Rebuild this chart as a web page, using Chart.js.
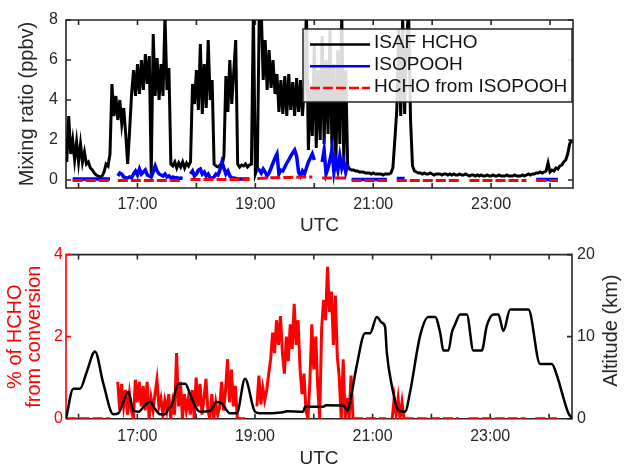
<!DOCTYPE html>
<html>
<head>
<meta charset="utf-8">
<script src="https://cdn.jsdelivr.net/npm/chart.js@4.4.0/dist/chart.umd.min.js"></script>
<style>
  html, body { margin: 0; padding: 0; background: #fff; overflow: hidden; }
  canvas { position: absolute; left: 0; }
  #topChart { top: 0; }
  #bottomChart { top: 240px; }
</style>
</head>
<body>
<canvas id="topChart" width="625" height="240"></canvas>
<canvas id="bottomChart" width="625" height="240"></canvas>
<script>
// x axis is UTC in decimal hours
const xMin = 15.787;
const xMax = 24.39;
const hourTicks = [16, 17, 18, 19, 20, 21, 22, 23, 24];
const mixTicks = [0, 2, 4, 6, 8];
const pctTicks = [0, 2, 4];
const altTicks = [0, 10, 20];

// 2-minute samples starting 15:48 UTC
const sampleStart = 15.8;
const sampleStep = 2 / 60;

// ISAF HCHO (ppbv)
const hcho = [
  0.9, 3.2, 1.3, 2.0, 1.0, 1.9, 0.9, 1.8, 0.9, 1.4,
  0.8, 0.9, 0.6, 0.5, 0.35, 0.25, 0.2, 0.15, 0.2, 0.4,
  0.8, 0.7, 1.3, 4.8, 3.2, 4.2, 3.0, 4.0, 2.8, 3.6,
  2.3, 0.8, 2.5, 4.3, 5.5, 4.2, 5.8, 4.3, 6.0, 4.5,
  6.3, 4.8, 6.2, 0.3, 7.3, 4.2, 6.1, 4.0, 5.8, 4.2,
  8.2, 4.5, 5.6, 0.8, 0.7, 0.9, 0.6, 0.85, 0.65, 0.9,
  0.6, 0.85, 0.7, 0.9, 4.8, 3.8, 5.5, 3.5, 6.8, 3.3,
  5.8, 3.6, 7.0, 4.0, 5.0, 0.8, 0.7, 0.65, 0.75, 0.7,
  1.2, 5.2, 3.4, 6.0, 3.8, 5.4, 7.0, 0.8, 0.65, 0.75,
  0.7, 0.8, 0.65, 0.75, 0.8, 8.5, 0.3, 0.6, 8.5, 8.5,
  5.0, 7.0, 4.5, 6.5, 4.6, 6.0, 4.3, 5.3, 3.4, 5.0,
  3.3, 5.2, 3.2, 5.3, 3.5, 4.9, 3.2, 5.1, 3.4, 5.0,
  3.2, 4.8, 8.5, 1.5, 4.5, 2.2, 6.8, 1.6, 5.5, 2.0,
  7.2, 1.8, 6.0, 2.3, 7.5, 1.5, 5.8, 0.8, 6.5, 1.8,
  8.3, 1.0, 5.5, 0.7, 0.55, 0.5, 0.5, 0.45, 0.45, 0.4,
  0.4, 0.4, 0.35, 0.35, 0.35, 0.3, 0.35, 0.3, 0.3, 0.3,
  0.3, 0.25, 0.3, 0.3, 0.3, 0.35, 0.6, 2.0, 3.5, 7.5,
  3.2, 8.0, 3.3, 7.0, 8.5, 3.0, 0.7, 0.45, 0.4, 0.35,
  0.35, 0.3, 0.35, 0.3, 0.3, 0.35, 0.3, 0.25, 0.3, 0.3,
  0.3, 0.25, 0.3, 0.3, 0.25, 0.3, 0.25, 0.3, 0.25, 0.25,
  0.3, 0.25, 0.25, 0.3, 0.25, 0.2, 0.25, 0.25, 0.2, 0.25,
  0.2, 0.25, 0.2, 0.2, 0.25, 0.2, 0.2, 0.25, 0.2, 0.2,
  0.25, 0.2, 0.2, 0.2, 0.25, 0.2, 0.2, 0.2, 0.25, 0.2,
  0.2, 0.2, 0.25, 0.2, 0.25, 0.3, 0.25, 0.3, 0.3, 0.35,
  0.35, 0.4, 0.35, 0.4, 0.45, 0.85, 0.4, 0.5, 0.45, 0.6,
  0.55, 0.7, 0.75, 0.9, 1.0, 1.3, 1.8, 2.0
];

// ISOPOOH (ppbv), null = no data
const isopooh = [
  null, null, null, 0.05, 0.05, 0.05, 0.05, 0.05, 0.05, 0.05,
  0.05, 0.05, 0.05, 0.05, 0.05, 0.05, 0.05, 0.05, 0.05, 0.05,
  0.05, 0.05, 0.05, null, null, null, 0.2, 0.35, 0.3, 0.15,
  0.12, 0.1, 0.15, 0.12, 0.3, 0.45, 0.25, 0.55, 0.3, 0.4,
  0.5, 0.25, 0.2, 0.15, 0.4, 0.7, 0.45, 0.3, 0.25, 0.2,
  0.3, 0.15, 0.2, 0.1, 0.15, 0.1, 0.12, 0.08, 0.1, 0.08,
  null, null, null, 0.3, 0.45, 0.2, 0.3, 0.5, 0.55, 0.3,
  0.4, 0.2, 0.3, 0.1, 0.1, 0.15, 0.3, 0.25, 0.5, 0.9,
  0.6, 0.3, 0.45, 0.2, 0.1, 0.1, 0.08, 0.05, 0.05, 0.05,
  0.05, 0.05, 0.05, 0.05, null, null, null, 0.6, 0.5, 0.35,
  0.55, 0.4, 0.2, 0.35, 0.6, 0.85, 1.1, 1.3, 0.3, 0.5,
  0.45, 0.65, 0.85, 1.0, 1.2, 1.35, 1.5, 1.2, 0.4, 0.2,
  0.45, 0.3, 0.6, 0.9, 1.1, 1.3, 1.0, null, null, null,
  0.9, 1.5, 0.3, 0.6, 1.0, 1.5, 0.4, 1.0, 0.5, 1.2,
  0.6, 0.95, 0.4, 0.8, null, 0.02, 0.02, 0.02, 0.02, 0.02,
  0.02, 0.02, 0.02, 0.02, 0.02, 0.02, 0.02, 0.02, 0.02, 0.02,
  0.02, 0.02, 0.02, 0.02, null, null, null, null, 0.08, 0.08,
  0.08, 0.08, 0.08, null, null, null, null, null, null, null,
  null, null, null, null, null, null, null, null, null, null,
  null, null, null, null, null, null, null, null, null, null,
  null, null, null, null, null, null, null, null, null, null,
  null, null, null, null, null, null, null, null, null, null,
  null, null, null, null, null, null, null, null, null, null,
  null, null, null, null, null, null, null, null, null, 0.02,
  0.02, 0.02, 0.02, 0.02, 0.02, 0.02, 0.02, 0.02, 0.02, 0.02,
  0.02, null, null, null, null, null, null, null
];

// HCHO from ISOPOOH (ppbv)
const hchoFromIsopooh = [
  null, null, null, -0.03, -0.03, -0.03, -0.03, -0.03, -0.03, -0.03,
  -0.03, -0.03, -0.03, -0.03, -0.03, -0.03, -0.03, -0.03, -0.03, -0.03,
  -0.03, -0.03, -0.03, null, null, null, -0.02, -0.02, -0.02, -0.02,
  -0.02, -0.02, -0.02, -0.02, -0.02, -0.02, -0.02, -0.02, -0.02, -0.02,
  -0.02, -0.02, -0.02, -0.02, -0.02, -0.02, -0.02, -0.02, -0.02, -0.02,
  -0.02, -0.02, -0.02, -0.02, -0.02, -0.02, -0.02, -0.02, -0.02, -0.02,
  null, null, null, 0.02, 0.02, 0.02, 0.02, 0.02, 0.02, 0.02,
  0.02, 0.02, 0.02, 0.02, 0.02, 0.02, 0.02, 0.02, 0.02, 0.02,
  0.02, 0.02, 0.02, 0.02, 0.02, 0.02, 0.02, 0.02, 0.02, 0.02,
  0.02, 0.02, 0.02, 0.02, null, null, null, 0.08, 0.08, 0.09,
  0.09, 0.1, 0.1, 0.1, 0.11, 0.11, 0.11, 0.12, 0.12, 0.12,
  0.12, 0.13, 0.13, 0.13, 0.13, 0.14, 0.14, 0.14, 0.14, 0.15,
  0.15, 0.15, 0.15, 0.15, 0.15, 0.15, null, null, null, null,
  0.1, 0.1, 0.1, 0.1, 0.1, 0.1, 0.1, 0.1, 0.1, 0.1,
  0.1, 0.1, 0.1, 0.1, null, -0.02, -0.02, -0.02, -0.02, -0.02,
  -0.02, -0.02, -0.02, -0.02, -0.02, -0.02, -0.02, -0.02, -0.02, -0.02,
  -0.02, -0.02, -0.02, -0.02, null, null, null, null, -0.02, -0.02,
  -0.02, -0.02, -0.02, -0.02, -0.02, -0.02, -0.02, -0.02, -0.02, -0.02,
  -0.02, -0.02, -0.02, -0.02, -0.02, -0.02, -0.02, -0.02, -0.02, -0.02,
  -0.02, -0.02, -0.02, -0.02, -0.02, -0.02, -0.02, -0.02, -0.02, -0.02,
  -0.02, null, null, null, null, -0.02, -0.02, -0.02, -0.02, -0.02,
  -0.02, -0.02, -0.02, -0.02, -0.02, -0.02, -0.02, -0.02, -0.02, -0.02,
  -0.02, -0.02, -0.02, -0.02, -0.02, -0.02, -0.02, -0.02, -0.02, -0.02,
  -0.02, -0.02, -0.02, -0.02, -0.02, null, null, null, null, -0.02,
  -0.02, -0.02, -0.02, -0.02, -0.02, -0.02, -0.02, -0.02, -0.02, -0.02,
  -0.02, null, null, null, null, null, null, null
];

// % of HCHO from conversion
const pctConversion = [
  0, 0, 0, 0, 0, 0, 0, 0, 0, 0,
  0, 0, 0, 0, 0, 0, 0, 0, 0, 0,
  0, 0, 0, null, null, null, 0.9, 0.2, 0.85, 0.3,
  0.7, 0.1, 0.6, 0.2, 0.0, 0.95, 0.4, 0.9, 0.3, 0.8,
  0.2, 0.9, 0.0, 0.5, 0.2, 0.6, 0.95, 0.3, 0.5, 0.1,
  0.45, 0.2, 0.6, 0.0, 0.4, 0.1, 1.6, 0.3, 0.9, 0.0,
  0.6, 0.2, 0.5, 0.1, 0.7, 0.0, 1.0, 0.3, 0.85, 0.1,
  0.5, 0.97, 0.2, 0.0, 0.6, 0.0, 0.4, 0.1, 0.3, 0.9,
  0.2, 0.7, 1.45, 0.4, 1.2, 0.3, 0.8, 0.0, 0, 0,
  0, 0, null, null, null, null, null, 0.3, 1.05, 0.35,
  0.75, 0.45, 0.7, 1.1, 1.45, 2.1, 1.6, 2.4, 1.8, 2.5,
  1.6, 1.1, 2.0, 1.4, 2.3, 1.7, 2.8, 1.8, 2.4, 1.2,
  0.6, 1.1, 0.2, 0.0, 0.9, 2.3, 1.2, 2.0, 0.8, 0.0,
  2.2, 2.9, 2.4, 3.7, 2.6, 3.1, 1.8, 3.0, 1.5, 1.0,
  0.0, 1.45, 0.0, 0.5, 0.0, 1.05, 0.0, 0, 0, 0,
  0, 0, 0, 0, 0, 0, 0, 0, 0, 0,
  0, 0, 0, 0, null, null, 0, 0.5, 0.1, 0.5,
  0.0, 0.4, 0, 0, 0, 0, 0, 0, 0, 0,
  0, 0, 0, 0, 0, 0, 0, 0, 0, 0,
  0, 0, 0, 0, 0, 0, 0, 0, 0, 0,
  0, null, null, null, null, 0, 0, 0, 0, 0,
  0, 0, 0, 0, 0, 0, 0, 0, 0, 0,
  0, 0, 0, 0, 0, 0, 0, 0, 0, 0,
  0, 0, 0, 0, 0, null, null, null, null, 0,
  0, 0, 0, 0, 0, 0, 0, 0, 0, 0,
  0, null, null, null, null, null, null, null
];

// aircraft altitude (km)
const altTime = [
  15.787, 15.911, 16.025, 16.139, 16.280, 16.421, 16.591, 16.676, 16.762, 16.847,
  16.932, 17.017, 17.131, 17.216, 17.300, 17.386, 17.471, 17.527, 17.585, 17.697,
  17.811, 17.925, 18.010, 18.066, 18.236, 18.350, 18.435, 18.576, 18.690, 18.831,
  19.001, 19.086, 19.477, 19.545, 19.818, 19.852, 20.158, 20.209, 20.498, 20.578,
  20.617, 20.731, 20.872, 20.957, 21.071, 21.156, 21.212, 21.241, 21.326, 21.436,
  21.552, 21.637, 21.807, 21.949, 22.063, 22.148, 22.204, 22.289, 22.347, 22.403,
  22.488, 22.601, 22.714, 22.856, 22.941, 23.054, 23.139, 23.224, 23.338, 23.649,
  23.848, 24.047, 24.132, 24.273, 24.330, 24.387
];
const altKm = [
  0, 3.66, 3.66, 5.7, 8.2, 4.3, 0.55, 0.65, 2.06, 3.25,
  1.0, 0.85, 1.65, 2.1, 1.2, 0.55, 0.55, 1.2, 1.65, 4.26,
  4.26, 2.46, 1.2, 0.85, 0.95, 2.05, 1.85, 0.65, 0.65, 4.86,
  0.85, 0.65, 0.8, 0.9, 0.85, 1.45, 1.45, 1.65, 1.6, 1.0,
  2.05, 6.5, 10.4, 10.4, 12.4, 11.7, 11.2, 8.1, 4.06, 1.05,
  0.85, 3.25, 10.1, 12.4, 12.4, 10.5, 8.3, 8.3, 10.5, 11.5,
  12.7, 12.7, 8.3, 8.3, 11.3, 12.7, 12.7, 10.7, 13.3, 13.3,
  6.67, 6.67, 5.3, 1.85, 0.65, 0.1
];

const FONT = '"Liberation Sans", Arial, Helvetica, sans-serif';
const AXIS_COLOR = '#262626';
Chart.defaults.font.family = FONT;
Chart.defaults.color = AXIS_COLOR;

const onGrid = (vals) => vals.map((v, i) => ({ x: sampleStart + i * sampleStep, y: v }));
const zip = (xs, ys) => xs.map((x, i) => ({ x: x, y: ys[i] }));
const hourLabel = (v) => (v % 2 === 1 ? v + ':00' : '');

// MATLAB-like box with inward ticks, drawn under the data
const framePlugin = {
  id: 'frame',
  beforeDatasetsDraw(chart, args, opts) {
    const { ctx, chartArea: a, scales } = chart;
    const len = 5;
    ctx.save();
    ctx.lineWidth = 1.6;
    ctx.strokeStyle = AXIS_COLOR;
    ctx.beginPath();
    for (const t of scales.x.ticks) {
      const px = scales.x.getPixelForValue(t.value);
      ctx.moveTo(px, a.bottom); ctx.lineTo(px, a.bottom - len);
      ctx.moveTo(px, a.top); ctx.lineTo(px, a.top + len);
    }
    ctx.moveTo(a.left, a.top); ctx.lineTo(a.right, a.top);
    ctx.moveTo(a.left, a.bottom); ctx.lineTo(a.right, a.bottom);
    ctx.stroke();
    const side = (scale, x, dir, color) => {
      ctx.strokeStyle = color;
      ctx.beginPath();
      for (const t of scale.ticks) {
        const py = scale.getPixelForValue(t.value);
        ctx.moveTo(x, py); ctx.lineTo(x + dir * len, py);
      }
      ctx.moveTo(x, a.top - 0.8); ctx.lineTo(x, a.bottom + 0.8);
      ctx.stroke();
    };
    side(scales[opts.leftScale], a.left, 1, opts.leftColor);
    side(scales[opts.rightScale], a.right, -1, opts.rightColor);
    ctx.restore();
  }
};

// boxed legend inside the top axes
const boxLegendPlugin = {
  id: 'boxLegend',
  afterDatasetsDraw(chart, args, opts) {
    const { ctx } = chart;
    ctx.save();
    ctx.fillStyle = 'rgba(255,255,255,0.86)';
    ctx.fillRect(opts.x, opts.y, opts.w, opts.h);
    ctx.lineWidth = 1.5;
    ctx.strokeStyle = AXIS_COLOR;
    ctx.strokeRect(opts.x, opts.y, opts.w, opts.h);
    ctx.font = opts.fontSize + 'px ' + FONT;
    ctx.textBaseline = 'middle';
    chart.data.datasets.forEach((ds, i) => {
      const y = opts.y + opts.rowTop + i * opts.rowGap;
      ctx.strokeStyle = ds.borderColor;
      ctx.lineWidth = 2.5;
      ctx.setLineDash(ds.borderDash || []);
      ctx.beginPath();
      ctx.moveTo(opts.x + 7, y);
      ctx.lineTo(opts.x + 67, y);
      ctx.stroke();
      ctx.setLineDash([]);
      ctx.fillStyle = '#111';
      ctx.fillText(ds.label, opts.x + 71, y - 1.5);
    });
    ctx.restore();
  }
};

// right-hand axis title reading bottom to top
const sideTitlePlugin = {
  id: 'sideTitle',
  afterDraw(chart, args, opts) {
    const { ctx, chartArea: a } = chart;
    ctx.save();
    ctx.translate(opts.x, (a.top + a.bottom) / 2 + opts.dy);
    ctx.rotate(-Math.PI / 2);
    ctx.font = opts.fontSize + 'px ' + FONT;
    ctx.fillStyle = AXIS_COLOR;
    ctx.textAlign = 'center';
    ctx.textBaseline = 'middle';
    ctx.fillText(opts.text, 0, 0);
    ctx.restore();
  }
};

const timeAxis = (tickPad, titlePad, height) => ({
  type: 'linear',
  position: 'bottom',
  min: xMin,
  max: xMax,
  afterBuildTicks: (scale) => { scale.ticks = hourTicks.map((v) => ({ value: v })); },
  afterFit: (scale) => { scale.height = height; },
  grid: { display: false, drawTicks: false },
  border: { display: false },
  ticks: { autoSkip: false, maxRotation: 0, padding: tickPad, color: AXIS_COLOR,
           font: { size: 16 }, callback: hourLabel },
  title: { display: true, text: 'UTC', color: AXIS_COLOR, font: { size: 19 },
           padding: { top: 0, bottom: titlePad } }
});

new Chart(document.getElementById('topChart'), {
  type: 'line',
  data: {
    datasets: [
      { label: 'ISAF HCHO', data: onGrid(hcho), borderColor: '#000000', borderWidth: 3, order: 3 },
      { label: 'ISOPOOH', data: onGrid(isopooh), borderColor: '#0000ff', borderWidth: 3.5, order: 2 },
      { label: 'HCHO from ISOPOOH', data: onGrid(hchoFromIsopooh), borderColor: '#ff0000',
        borderWidth: 3, borderDash: [10, 3], order: 1 }
    ]
  },
  options: {
    responsive: false,
    animation: false,
    devicePixelRatio: 1,
    layout: { padding: { left: 0, right: 52, top: 20, bottom: 0 } },
    elements: { point: { radius: 0 }, line: { tension: 0 } },
    scales: {
      x: timeAxis(7, 2.8, 52),
      y: {
        min: -0.4,
        max: 8,
        afterBuildTicks: (scale) => { scale.ticks = mixTicks.map((v) => ({ value: v })); },
        afterFit: (scale) => { scale.width = 66; },
        grid: { display: false, drawTicks: false },
        border: { display: false },
        ticks: { padding: 8, color: AXIS_COLOR, font: { size: 16 } },
        title: { display: true, text: 'Mixing ratio (ppbv)', color: AXIS_COLOR, font: { size: 20 },
                 padding: { top: 15.5, bottom: 0 } }
      }
    },
    plugins: {
      legend: { display: false },
      tooltip: { enabled: false },
      frame: { leftScale: 'y', rightScale: 'y', leftColor: AXIS_COLOR, rightColor: AXIS_COLOR },
      boxLegend: { x: 303, y: 29, w: 269, h: 73, rowTop: 15.5, rowGap: 21.7, fontSize: 19 }
    }
  },
  plugins: [framePlugin, boxLegendPlugin]
});

new Chart(document.getElementById('bottomChart'), {
  type: 'line',
  data: {
    datasets: [
      { label: '% of HCHO from conversion', data: onGrid(pctConversion), yAxisID: 'y',
        borderColor: '#ff0000', borderWidth: 3, order: 2,
        segment: { borderDash: (c) => (c.p0.parsed.y === 0 && c.p1.parsed.y === 0 ? [10, 3] : undefined) } },
      { label: 'Altitude', data: zip(altTime, altKm), yAxisID: 'y2',
        borderColor: '#000000', borderWidth: 2.5, order: 1, cubicInterpolationMode: 'monotone' }
    ]
  },
  options: {
    responsive: false,
    animation: false,
    devicePixelRatio: 1,
    layout: { padding: { left: 0, right: 0, top: 12.7, bottom: 0 } },
    elements: { point: { radius: 0 }, line: { tension: 0 } },
    scales: {
      x: timeAxis(8, 9.6, 61.3),
      y: {
        position: 'left',
        min: 0,
        max: 4,
        afterBuildTicks: (scale) => { scale.ticks = pctTicks.map((v) => ({ value: v })); },
        afterFit: (scale) => { scale.width = 66; },
        grid: { display: false, drawTicks: false },
        border: { display: false },
        ticks: { padding: 3, color: '#ff0000', font: { size: 16 } },
        title: { display: true, text: ['% of HCHO', 'from conversion'], color: '#ff0000',
                 font: { size: 20, lineHeight: 0.95 }, padding: { top: 6, bottom: 0 } }
      },
      y2: {
        position: 'right',
        min: 0,
        max: 20,
        afterBuildTicks: (scale) => { scale.ticks = altTicks.map((v) => ({ value: v })); },
        afterFit: (scale) => { scale.width = 53; },
        grid: { display: false, drawTicks: false },
        border: { display: false },
        ticks: { padding: 5, color: AXIS_COLOR, font: { size: 16 } }
      }
    },
    plugins: {
      legend: { display: false },
      tooltip: { enabled: false },
      frame: { leftScale: 'y', rightScale: 'y2', leftColor: '#ff0000', rightColor: AXIS_COLOR },
      sideTitle: { text: 'Altitude (km)', x: 611, dy: -6, fontSize: 20 }
    }
  },
  plugins: [framePlugin, sideTitlePlugin]
});
</script>
</body>
</html>
